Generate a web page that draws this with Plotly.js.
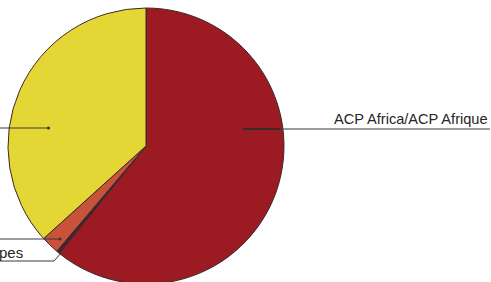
<!DOCTYPE html>
<html>
<head>
<meta charset="utf-8">
<script src="https://cdn.plot.ly/plotly-3.0.1.min.js"></script>
<style>
html,body{margin:0;padding:0;overflow:hidden;background:#fff;}
#chart{width:491px;height:290px;}
</style>
</head>
<body>
<div id="chart"></div>
<script>
// Data, clockwise from 12 o'clock
const categories = ["ACP Africa/ACP Afrique", "Other small", "Caribbean", "Other"];
const shares = [60.8, 0.4, 2.1, 36.7];
const colors = ["#9c1b22", "#4a2030", "#c8533a", "#e4d634"];

const W = 491, H = 290;
const px = x => x / W;
const py = y => 1 - y / H;

const lineStyle = {color: "#3a3a3a", width: 1};
const shapes = [
  {type: "line", xref: "paper", yref: "paper", x0: px(243), y0: py(129), x1: px(490), y1: py(129), line: lineStyle},
  {type: "line", xref: "paper", yref: "paper", x0: px(243), y0: py(129), x1: px(280), y1: py(129), line: {color: "#3a2a2a", width: 2}},
  {type: "line", xref: "paper", yref: "paper", x0: px(0), y0: py(128), x1: px(49), y1: py(128), line: lineStyle},
  {type: "circle", xref: "paper", yref: "paper", x0: px(47), y0: py(126.5), x1: px(50), y1: py(129.5), fillcolor: "#333", line: {width: 0}},
  {type: "line", xref: "paper", yref: "paper", x0: px(0), y0: py(239), x1: px(60), y1: py(239), line: lineStyle},
  {type: "circle", xref: "paper", yref: "paper", x0: px(58.5), y0: py(237.5), x1: px(61.5), y1: py(240.5), fillcolor: "#333", line: {width: 0}},
  {type: "path", xref: "paper", yref: "paper", path: "M 0 " + py(261) + " L " + px(54) + " " + py(261) + " L " + px(62) + " " + py(252), line: lineStyle}
];

const data = [{
  type: "pie",
  labels: categories,
  values: shares,
  sort: false,
  direction: "clockwise",
  rotation: 0,
  textinfo: "none",
  hoverinfo: "none",
  marker: {colors: colors, line: {color: "#3a2a2a", width: 1}},
  domain: {x: [px(8), px(284)], y: [py(284), py(8)]},
  showlegend: false
}];

const layout = {
  width: W, height: H,
  margin: {l: 0, r: 0, t: 0, b: 0},
  paper_bgcolor: "#ffffff",
  showlegend: false,
  shapes: shapes,
  annotations: [
    {xref: "paper", yref: "paper", x: px(490), y: py(119), xanchor: "right", yanchor: "middle",
     text: categories[0], showarrow: false,
     font: {family: "Liberation Sans, Arial, sans-serif", size: 14.6, color: "#262626"}},
    {xref: "paper", yref: "paper", x: px(25), y: py(252), xanchor: "right", yanchor: "middle",
     text: "pes", showarrow: false,
     font: {family: "Liberation Sans, Arial, sans-serif", size: 15, color: "#262626"}}
  ]
};

Plotly.newPlot("chart", data, layout, {displayModeBar: false, staticPlot: true});
</script>
</body>
</html>
